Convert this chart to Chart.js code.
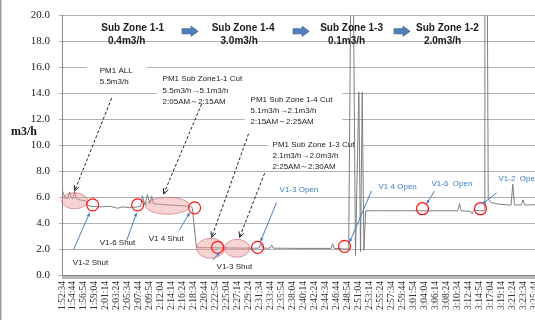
<!DOCTYPE html>
<html><head><meta charset="utf-8">
<script src="https://cdn.jsdelivr.net/npm/chart.js@4.4.1/dist/chart.umd.min.js"></script>
<style>html,body{margin:0;padding:0;background:#fff;overflow:hidden;width:535px;height:320px}
#wrap{position:relative;width:560px;height:320px}</style></head>
<body><div id="wrap"><canvas id="c" width="560" height="320"></canvas></div>
<script>
// ---------- data ----------
const startTime = "1:52:34";
const tickLabels = ["1:52:34","1:54:44","1:56:54","1:59:04","2:01:14","2:03:24","2:05:34","2:07:44","2:09:54","2:12:04","2:14:14","2:16:24","2:18:34","2:20:44","2:22:54","2:25:04","2:27:14","2:29:24","2:31:34","2:33:44","2:35:54","2:38:04","2:40:14","2:42:24","2:44:34","2:46:44","2:48:54","2:51:04","2:53:14","2:55:24","2:57:34","2:59:44","3:01:54","3:04:04","3:06:14","3:08:24","3:10:34","3:12:44","3:14:54","3:17:04","3:19:14","3:21:24","3:23:34","3:25:44","3:27:54"];
const sampleTimes = ["1:52:34","1:52:54","1:53:14","1:53:44","1:54:04","1:54:24","1:54:44","1:55:04","1:55:24","1:55:54","1:56:44","1:57:14","1:57:34","1:58:04","2:00:04","2:02:04","2:03:04","2:03:34","2:04:24","2:05:54","2:07:24","2:08:04","2:08:24","2:08:54","2:09:24","2:09:54","2:10:14","2:10:34","2:11:54","2:13:44","2:15:44","2:17:44","2:18:14","2:19:04","2:21:44","2:25:34","2:29:34","2:31:24","2:31:44","2:32:14","2:33:34","2:33:54","2:34:14","2:39:24","2:45:34","2:45:54","2:46:14","2:48:14","2:49:04","2:49:44","2:50:24","2:51:04","2:51:24","2:51:44","2:52:04","2:52:24","2:55:34","3:00:04","3:04:04","3:08:04","3:10:34","3:10:54","3:11:14","3:13:04","3:13:24","3:13:44","3:14:54","3:15:44","3:15:54","3:16:14","3:16:34","3:17:04","3:18:04","3:19:04","3:20:34","3:21:04","3:21:24","3:21:44","3:22:24","3:23:04","3:23:24","3:23:44","3:25:04","3:26:44"];
const flowValues = [6.6,6.2,5.9,5.95,6.4,5.95,5.9,6.45,5.9,5.8,5.75,5.7,5.4,5.3,5.25,5.3,5.2,5.15,5.25,5.2,5.25,5.3,6.1,5.4,6.2,5.5,6.1,5.5,5.45,5.4,5.35,5.3,5.2,2.1,2.1,2.08,2.07,2.07,2.4,2.07,2.07,2.3,2.07,2.05,2.05,2.4,2.05,2.0,2.0,35,1.5,14.1,1.8,14.1,1.9,4.95,4.95,4.95,4.95,4.95,4.95,5.5,4.95,4.9,4.7,5.0,4.95,4.95,35,35,5.9,5.6,5.5,5.45,5.4,5.4,7.0,5.4,5.4,5.4,5.8,5.4,5.4,5.45];

// ---------- annotation layout (u = tick-label index, v = m3/h) ----------
const headers = [
  {u:6.43,v:19.05,t:"Sub Zone 1-1"},{u:5.88,v:17.99,t:"0.4m3/h"},
  {u:16.47,v:19.05,t:"Sub Zone 1-4"},{u:16.11,v:17.99,t:"3.0m3/h"},
  {u:26.34,v:19.05,t:"Sub Zone 1-3"},{u:25.88,v:17.99,t:"0.1m3/h"},
  {u:35.06,v:19.05,t:"Sub Zone 1-2"},{u:34.61,v:17.99,t:"2.0m3/h"}
];
const blockArrows = [{u:11.65,v:18.79},{u:21.75,v:18.79},{u:30.93,v:18.79}];
const whiteBoxes = [
  {u1:2.25,u2:7.7,v1:16.54,v2:14.41},{u1:8.61,u2:17.06,v1:15.62,v2:12.88},
  {u1:16.61,u2:25.5,v1:14.25,v2:11.28},{u1:18.7,u2:27.3,v1:10.59,v2:8.23}
];
const noteTexts = [
  {u:3.43,v:[15.78,14.86],lines:["PM1 ALL","5.5m3/h"]},
  {u:9.15,v:[15.09,14.18,13.34],lines:["PM1 Sub Zone1-1 Cut","5.5m3/h\u21925.1m3/h","2:05AM\uFF5E2:15AM"]},
  {u:17.15,v:[13.49,12.65,11.81],lines:["PM1 Sub Zone 1-4 Cut","5.1m3/h\u21922.1m3/h","2:15AM\uFF5E2:25AM"]},
  {u:19.15,v:[10.06,9.22,8.38],lines:["PM1 Sub Zone 1-3 Cut","2.1m3/h\u21922.0m3/h","2:25AM\uFF5E2:30AM"]}
];
const ellipses = [{u:1.15,v:5.72,rx:13,ry:8},{u:9.61,v:5.34,rx:22,ry:8.5},{u:13.52,v:2.06,rx:14,ry:10},{u:15.93,v:2.06,rx:12.5,ry:9}];
const redCircles = [{u:2.79,v:5.41},{u:6.88,v:5.41},{u:12.06,v:5.18},{u:14.15,v:2.13},{u:17.79,v:2.13},{u:25.7,v:2.21},{u:32.79,v:5.11},{u:38.06,v:5.11}];
const dashedArrows = [[4.52,13.64,1.15,6.48],[12.7,13.19,9.25,6.25],[16.97,10.9,13.61,2.9],[18.43,7.85,16.15,2.9]];
const blueArrows = [[1.06,1.98,2.52,4.8],[5.89,2.67,6.79,4.8],[10.7,3.5,11.61,4.8],[13.7,1.14,14.34,1.75],[19.5,5.56,18.06,2.59],[28.15,6.48,26.15,2.52],[33.88,6.48,33.16,5.49],[39.52,6.33,38.25,5.49]];
const blueTexts = [{u:19.79,v:6.55,t:"V1-3 Open"},{u:28.79,v:6.78,t:"V1 4 Open"},{u:33.61,v:7.01,t:"V1-6  Open"},{u:39.7,v:7.39,t:"V1-2  Open"}];
const blackTexts = [{u:0.97,v:0.91,t:"V1-2 Shut"},{u:3.43,v:2.52,t:"V1-6 Shut"},{u:7.88,v:2.82,t:"V1 4 Shut"},{u:14.06,v:0.61,t:"V1-3 Shut"}];

// ---------- helpers ----------
function toSec(s){const p=s.split(':').map(Number);return p[0]*3600+p[1]*60+p[2];}
const T0 = toSec(startTime);
const STEP = toSec(tickLabels[1]) - toSec(tickLabels[0]);
const points = sampleTimes.map((t,i)=>({x:toSec(t)-T0,y:flowValues[i]}));

const SANS = "'Liberation Sans', Arial, sans-serif";
const SERIF = "'Liberation Serif', 'Times New Roman', serif";

function arrowHead(ctx,x1,y1,x2,y2,len,filled){
  const a=Math.atan2(y2-y1,x2-x1), s=0.45;
  ctx.beginPath();
  ctx.moveTo(x2-len*Math.cos(a-s),y2-len*Math.sin(a-s));
  ctx.lineTo(x2,y2);
  ctx.lineTo(x2-len*Math.cos(a+s),y2-len*Math.sin(a+s));
  if(filled){ctx.closePath();ctx.fill();}else ctx.stroke();
}

const notesPlugin = {
  id:'notes',
  beforeDatasetsDraw(chart){
    const {ctx,scales:{x,y}}=chart;
    const P=(u,v)=>[x.getPixelForValue(u*STEP),y.getPixelForValue(v)];
    ctx.save();ctx.fillStyle='#fff';
    whiteBoxes.forEach(b=>{const [x1,y1]=P(b.u1,b.v1),[x2,y2]=P(b.u2,b.v2);ctx.fillRect(x1,y1,x2-x1,y2-y1);});
    ctx.restore();
  },
  afterDatasetsDraw(chart){
    const {ctx,scales:{x,y}}=chart;
    const P=(u,v)=>[x.getPixelForValue(u*STEP),y.getPixelForValue(v)];
    ctx.save();
    ellipses.forEach(e=>{const [cx,cy]=P(e.u,e.v);ctx.beginPath();ctx.ellipse(cx,cy,e.rx,e.ry,0,0,Math.PI*2);
      ctx.fillStyle='rgba(238,150,150,0.42)';ctx.fill();ctx.strokeStyle='rgba(195,100,100,0.6)';ctx.lineWidth=1;ctx.stroke();});
    redCircles.forEach(c=>{const [cx,cy]=P(c.u,c.v);ctx.beginPath();ctx.arc(cx,cy,6,0,Math.PI*2);ctx.strokeStyle='#ff1010';ctx.lineWidth=1.2;ctx.stroke();});
    ctx.strokeStyle='#222';ctx.lineWidth=1;
    dashedArrows.forEach(a=>{const [x1,y1]=P(a[0],a[1]),[x2,y2]=P(a[2],a[3]);ctx.setLineDash([3,2]);ctx.beginPath();ctx.moveTo(x1,y1);ctx.lineTo(x2,y2);ctx.stroke();ctx.setLineDash([]);arrowHead(ctx,x1,y1,x2,y2,6,false);});
    ctx.strokeStyle='#4a7ebb';ctx.fillStyle='#4a7ebb';
    blueArrows.forEach(a=>{const [x1,y1]=P(a[0],a[1]),[x2,y2]=P(a[2],a[3]);ctx.beginPath();ctx.moveTo(x1,y1);ctx.lineTo(x2,y2);ctx.stroke();arrowHead(ctx,x1,y1,x2,y2,4,true);});
    blockArrows.forEach(b=>{const [cx,cy]=P(b.u,b.v);ctx.beginPath();
      ctx.moveTo(cx-8,cy-2.5);ctx.lineTo(cx+1,cy-2.5);ctx.lineTo(cx+1,cy-5);ctx.lineTo(cx+8,cy);ctx.lineTo(cx+1,cy+5);ctx.lineTo(cx+1,cy+2.5);ctx.lineTo(cx-8,cy+2.5);ctx.closePath();
      ctx.fillStyle='#4f81bd';ctx.fill();ctx.strokeStyle='#385d8a';ctx.lineWidth=0.8;ctx.stroke();});
    ctx.fillStyle='#1a1a1a';ctx.font='bold 10px '+SANS;ctx.textAlign='center';ctx.textBaseline='middle';
    headers.forEach(h=>{const [px,py]=P(h.u,h.v);ctx.fillText(h.t,px,py);});
    ctx.font='8px '+SANS;ctx.textAlign='left';ctx.fillStyle='#222';
    noteTexts.forEach(n=>n.lines.forEach((l,i)=>{const [px,py]=P(n.u,n.v[i]);ctx.fillText(l,px,py);}));
    blackTexts.forEach(t=>{const [px,py]=P(t.u,t.v);ctx.fillText(t.t,px,py);});
    ctx.fillStyle='#3a7fc4';
    blueTexts.forEach(t=>{const [px,py]=P(t.u,t.v);ctx.fillText(t.t,px,py);});
    ctx.restore();
  },
  afterDraw(chart){
    const {ctx,scales:{y}}=chart;
    ctx.save();
    ctx.fillStyle='#111';ctx.font='bold 12px '+SERIF;ctx.textAlign='left';ctx.textBaseline='middle';
    ctx.fillText('m3/h',11,y.getPixelForValue(11));
    ctx.fillStyle='#999';ctx.fillRect(0,0,1.5,320);
    ctx.restore();
  }
};

new Chart(document.getElementById('c'),{
  type:'line',
  data:{datasets:[{data:points,borderColor:'#7f7f7f',borderWidth:1,pointRadius:0,tension:0,fill:false}]},
  options:{
    responsive:false,animation:false,
    layout:{padding:{top:11.5,right:0,bottom:0,left:0}},
    plugins:{legend:{display:false},tooltip:{enabled:false}},
    scales:{
      x:{type:'linear',min:0,max:5730,
        afterFit(s){s.height=45;},
        grid:{drawOnChartArea:false,drawTicks:true,tickLength:4,color:'#b8b8b8'},
        border:{display:true,color:'#888'},
        ticks:{stepSize:10,autoSkip:false,minRotation:90,maxRotation:90,padding:2,
          font:{family:SERIF,size:9.5},color:'#333',
          callback(v){const r=Math.round(v);return r%STEP===0?(tickLabels[r/STEP]||''):'';}}},
      y:{min:0,max:20,
        afterFit(s){s.width=62;},
        grid:{color:'#b0b0b0',tickLength:3},
        border:{display:true,color:'#888'},
        ticks:{stepSize:2,padding:9,font:{family:SERIF,size:11},color:'#222',callback(v){return v.toFixed(1);}}}
    }
  },
  plugins:[notesPlugin]
});
</script></body></html>
